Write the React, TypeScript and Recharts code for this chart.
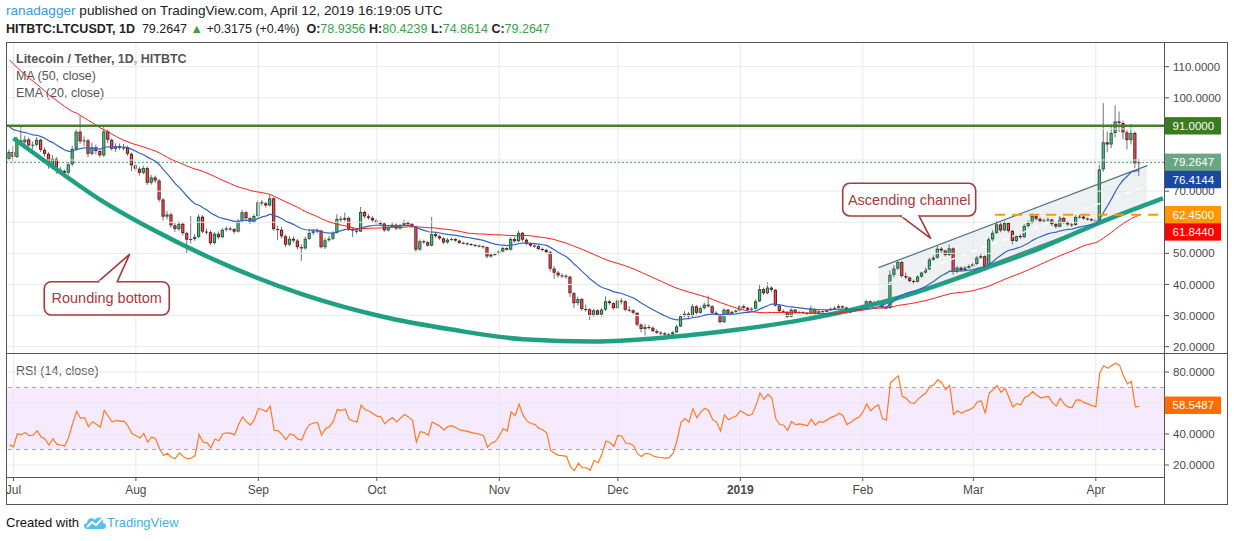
import React from 'react';
import {
  ComposedChart,
  Bar,
  Line,
  Area,
  XAxis,
  YAxis,
  ReferenceLine,
  ReferenceArea,
  ReferenceDot,
} from 'recharts';

// day index: Jul 1 2018 = 0, so the first candle (Jun 30) is day -1
const firstDay = -1;
const firstOpen = 80.4;

// daily closes Jun 30 2018 .. Apr 12 2019
const closes = [
  82.6,
  // Jul
  81.0, 86.3, 85.7, 86.6, 84.7, 84.9, 86.5, 83.3, 82.0, 78.3, 80.4, 76.9, 76.5, 75.9, 78.6, 83.6,
  89.1, 86.0, 86.3, 82.0, 84.1, 82.9, 81.5, 89.2, 86.5, 83.6, 84.4, 83.9, 84.0, 82.0, 78.3,
  // Aug
  77.2, 75.9, 77.4, 72.7, 74.4, 73.4, 67.3, 61.8, 62.5, 59.0, 57.8, 59.5, 56.5, 54.4, 54.6, 55.3,
  61.8, 57.0, 56.8, 53.3, 56.3, 55.2, 57.6, 58.0, 57.8, 57.0, 60.4, 63.2, 61.3, 60.0, 62.0,
  // Sep
  66.4, 66.1, 65.4, 67.7, 57.8, 57.6, 55.5, 52.8, 54.7, 54.1, 52.0, 51.6, 54.7, 56.6, 57.1,
  57.3, 52.0, 54.2, 54.7, 56.6, 61.1, 60.8, 61.4, 57.9, 57.3, 57.0, 63.3, 61.9, 61.4, 60.6,
  // Oct
  59.8, 59.6, 57.4, 58.5, 59.2, 58.0, 59.0, 60.0, 59.4, 58.6, 51.2, 53.9, 53.6, 52.5, 56.2, 55.5,
  54.8, 53.5, 54.4, 54.6, 54.1, 53.4, 53.2, 53.0, 52.7, 52.5, 52.3, 52.0, 49.0, 49.6, 49.8,
  // Nov
  50.6, 51.7, 51.2, 54.6, 53.9, 56.6, 54.4, 53.1, 52.5, 52.3, 51.4, 51.1, 50.4, 45.1, 43.8,
  42.9, 42.8, 42.5, 37.2, 34.0, 35.3, 32.1, 32.0, 30.0, 31.7, 30.3, 31.9, 34.6, 34.0, 32.4,
  // Dec
  34.8, 34.6, 31.9, 31.7, 30.9, 27.1, 25.7, 26.3, 26.1, 25.0, 24.5, 24.3, 23.9, 24.0, 24.6, 26.5,
  29.8, 30.6, 29.8, 33.0, 30.9, 32.4, 33.5, 33.0, 30.9, 30.3, 27.9, 31.9, 30.6, 31.2, 31.6,
  // Jan
  33.0, 32.5, 31.9, 32.2, 34.6, 38.5, 37.2, 39.0, 38.3, 33.2, 31.4, 31.2, 29.6, 31.9, 30.9, 31.1,
  30.9, 30.6, 32.1, 30.6, 31.4, 31.2, 31.7, 32.2, 32.5, 33.0, 32.6, 31.0, 31.4, 31.9, 32.2,
  // Feb
  33.0, 34.6, 33.6, 34.3, 34.7, 32.6, 32.4, 43.1, 45.1, 47.2, 42.7, 42.2, 41.1, 40.9,
  42.5, 43.8, 44.9, 48.0, 48.6, 51.5, 50.9, 49.5, 51.6, 44.0, 45.4, 44.6, 45.4, 45.9,
  // Mar
  46.6, 48.6, 49.1, 45.9, 54.5, 56.6, 59.3, 57.4, 59.8, 57.2, 54.0, 55.6, 55.2, 58.8, 59.8, 62.0,
  61.1, 60.3, 60.6, 60.9, 59.4, 58.6, 61.4, 60.0, 59.3, 59.1, 61.7, 61.8, 61.2, 61.0, 60.6,
  // Apr
  60.4, 77.0, 85.7, 85.0, 88.7, 92.4, 91.9, 88.9, 86.4, 88.7, 78.94, 79.2647,
];

const highs = [
  83.4,
  84.5, 87.5, 91.1, 87.8, 87.3, 86.0, 87.4, 86.9, 84.0, 82.5, 81.6, 80.9, 77.8, 77.0, 79.3, 84.6,
  89.9, 94.3, 87.6, 86.9, 85.6, 85.0, 83.4, 90.6, 89.8, 86.9, 85.4, 85.3, 85.2, 84.6, 82.4,
  79.0, 77.8, 78.2, 77.9, 75.2, 75.0, 73.9, 67.8, 63.6, 63.0, 59.9, 60.3, 60.0, 57.0, 62.0, 56.2,
  62.6, 62.3, 58.0, 57.4, 56.9, 57.0, 58.1, 58.7, 58.6, 58.2, 61.0, 64.0, 63.6, 61.8, 62.6,
  67.0, 67.2, 66.6, 68.8, 68.0, 58.9, 58.6, 56.0, 55.6, 55.4, 54.6, 52.9, 55.4, 57.8, 57.8,
  58.0, 57.6, 55.0, 55.6, 57.1, 62.6, 62.0, 63.1, 61.9, 58.4, 58.0, 64.9, 63.7, 62.6, 62.0,
  61.2, 60.5, 60.0, 59.0, 59.9, 59.6, 59.5, 60.8, 60.4, 59.8, 58.9, 54.5, 54.4, 54.0, 61.7, 56.9,
  56.0, 55.2, 54.9, 55.0, 54.9, 54.4, 53.8, 53.6, 53.3, 53.0, 52.8, 52.6, 52.2, 50.1, 50.3,
  51.1, 52.2, 52.0, 55.2, 55.4, 57.4, 56.9, 54.8, 53.6, 53.0, 52.7, 51.9, 51.5, 50.9, 45.9,
  44.4, 43.6, 43.3, 42.8, 37.6, 36.1, 35.7, 33.6, 32.4, 32.2, 32.0, 32.5, 36.2, 35.1, 34.3,
  35.3, 35.6, 34.9, 33.0, 32.0, 31.1, 27.5, 27.3, 27.0, 26.5, 25.6, 25.0, 24.7, 24.4, 25.0, 27.0,
  30.4, 31.5, 31.2, 33.7, 33.4, 33.0, 34.2, 36.4, 33.3, 31.4, 30.6, 32.4, 32.1, 31.6, 32.0,
  33.4, 33.6, 32.8, 32.7, 35.2, 39.9, 39.0, 40.7, 39.4, 38.6, 33.6, 32.0, 31.5, 32.3, 32.1, 31.5,
  31.4, 31.2, 33.3, 32.3, 31.8, 31.7, 32.1, 32.6, 32.9, 33.6, 33.2, 32.8, 31.8, 32.3, 32.6,
  33.5, 35.1, 34.9, 34.7, 35.0, 34.9, 33.1, 44.6, 46.2, 47.9, 47.6, 43.8, 42.6, 41.6,
  43.0, 44.4, 45.4, 48.6, 49.4, 52.4, 52.0, 51.2, 52.9, 51.9, 46.0, 45.8, 45.9, 46.4,
  47.1, 49.2, 49.9, 49.4, 55.2, 57.4, 60.4, 60.1, 60.5, 60.1, 57.6, 56.3, 56.2, 59.4, 60.6, 62.8,
  62.4, 61.6, 61.3, 61.6, 61.2, 59.9, 62.0, 61.8, 60.4, 59.8, 62.3, 62.4, 62.1, 61.5, 61.3,
  61.2, 78.5, 98.3, 89.2, 91.5, 97.6, 95.6, 92.6, 89.6, 91.6, 89.2, 80.4239,
];

const lows = [
  79.8,
  79.4, 80.6, 84.9, 85.0, 83.6, 83.5, 84.4, 82.6, 81.2, 77.2, 77.8, 75.6, 75.4, 74.9, 75.3, 78.0,
  82.9, 85.1, 84.4, 80.9, 81.5, 81.8, 80.9, 81.0, 85.4, 83.0, 82.6, 83.2, 83.1, 81.4, 76.5,
  76.4, 75.0, 75.4, 72.0, 72.1, 72.6, 66.5, 60.5, 60.9, 58.2, 56.9, 57.1, 55.8, 50.0, 53.2, 54.0,
  55.0, 56.4, 56.0, 52.6, 52.9, 54.6, 54.9, 57.0, 57.2, 56.3, 56.7, 60.0, 60.6, 59.4, 59.7,
  61.6, 65.3, 64.7, 65.0, 57.2, 54.2, 54.8, 52.0, 52.3, 53.4, 51.3, 47.6, 51.2, 54.3, 55.9,
  56.4, 51.6, 51.4, 53.8, 54.3, 56.3, 60.0, 60.2, 57.2, 55.2, 56.3, 56.8, 61.2, 60.8, 60.1,
  59.3, 58.9, 56.9, 57.0, 58.1, 57.5, 57.6, 58.6, 58.9, 58.1, 50.5, 50.9, 53.0, 52.1, 52.2, 55.0,
  54.3, 53.0, 53.1, 54.0, 53.7, 53.0, 52.9, 52.6, 52.3, 52.1, 51.9, 51.5, 48.4, 48.6, 49.2,
  49.4, 50.3, 50.8, 50.9, 53.4, 53.6, 53.8, 52.6, 52.0, 51.8, 51.0, 50.6, 49.8, 44.2, 41.9,
  42.2, 42.1, 41.8, 36.0, 32.4, 33.2, 31.5, 31.2, 28.6, 29.6, 29.8, 29.6, 31.5, 33.4, 31.9,
  32.1, 33.6, 31.4, 31.2, 30.4, 26.5, 24.6, 23.6, 25.5, 24.6, 24.0, 23.7, 23.3, 23.2, 23.7, 24.4,
  26.3, 29.5, 29.0, 29.5, 30.3, 30.6, 32.0, 32.6, 30.4, 29.8, 27.4, 27.6, 30.1, 30.3, 30.8,
  31.3, 32.1, 31.4, 31.5, 32.0, 34.3, 36.6, 36.9, 37.6, 32.9, 31.0, 30.8, 29.1, 29.4, 30.5, 30.6,
  30.5, 30.2, 30.4, 30.3, 30.4, 30.9, 31.0, 31.5, 32.0, 32.3, 32.3, 30.6, 30.7, 31.2, 31.6,
  31.9, 32.8, 33.3, 33.4, 34.0, 32.3, 32.1, 32.2, 42.3, 44.6, 42.0, 41.7, 40.7, 40.3,
  40.6, 42.2, 43.5, 44.6, 47.6, 48.3, 50.0, 49.0, 49.2, 43.1, 43.6, 44.1, 44.3, 45.0,
  45.6, 46.3, 48.2, 45.4, 45.6, 53.9, 56.2, 56.8, 57.1, 56.7, 52.9, 53.6, 54.6, 54.9, 58.3, 59.5,
  60.5, 59.7, 59.8, 60.1, 58.8, 58.0, 58.3, 59.5, 58.8, 58.5, 58.9, 61.2, 60.8, 60.6, 60.2,
  59.9, 60.1, 76.2, 82.5, 83.8, 87.2, 89.0, 86.6, 83.4, 85.0, 77.4, 74.8614,
];

// closes May 12 .. Jun 29 2018, only used to warm up MA / EMA / RSI
const priorCloses = [
  145, 148, 145, 141, 139, 135, 137, 136, 139, 136, 129, 122, 124, 122, 122, 121, 116, 124, 123, 124,
  121, 123, 124, 119, 121, 120, 120, 118, 115, 104, 104, 97, 94, 98, 94, 96, 95, 98, 97, 97,
  94, 84, 85, 82, 83, 79, 80, 76, 80.4,
];

const monthTicks = [0, 31, 62, 92, 123, 153, 184, 215, 243, 274];
const monthLabels = ['Jul', 'Aug', 'Sep', 'Oct', 'Nov', 'Dec', '2019', 'Feb', 'Mar', 'Apr'];

const priceGrid = [20, 30, 40, 50, 60, 70, 80, 90, 100, 110];
const priceTicks = [20, 30, 40, 50, 70, 100, 110];
const rsiGrid = [20, 40, 60, 80];
const rsiTicks = [20, 40, 80];

// rounding bottom drawing
const curveDays = [0, 10, 22, 35, 56, 73, 93, 111, 129, 147, 166, 184, 200, 212, 225, 246, 260, 275, 291];
const curvePrices = [87.0, 77.8, 67.2, 57.8, 45.1, 36.9, 29.8, 25.5, 22.4, 21.7, 23.1, 25.6, 28.7, 31.8, 36.1, 45.2, 51.7, 59.9, 67.7];

// ascending channel drawing
const channelDays = [219, 287];
const channelUpper = [45.4, 78.2];
const channelLower = [32.9, 65.5];

const resistance = 91;
const support = 62.45;
const supportFrom = 248.5;
const lastPrice = 79.2647;
const lastEma = 76.4144;
const lastMa = 61.844;
const lastRsi = 58.5487;

const roundingTip = { day: 29.4, price: 49.7 };
const channelTip = { day: 232.2, price: 54.85 };

const xDomain = [-1.875, 291.26];
const priceDomain = [17.975, 117.62];
const rsiDomain = [12.26, 90.97];

const FONT = '"Liberation Sans", Arial, sans-serif';
const GRID = '#e9e9ea';

// indicators
const series = [...priorCloses, ...closes];
const lead = priorCloses.length;

function sma(n: number) {
  return closes.map((_, i) => {
    let s = 0;
    for (let j = lead + i - n + 1; j <= lead + i; j++) s += series[j];
    return s / n;
  });
}

function ema(n: number) {
  const k = 2 / (n + 1);
  let e = series[0];
  const out: number[] = [];
  series.forEach((v, i) => {
    e = i === 0 ? v : v * k + e * (1 - k);
    out.push(e);
  });
  return out.slice(lead);
}

function rsi(n: number) {
  let ag = 0;
  let al = 0;
  const out: (number | null)[] = [null];
  for (let i = 1; i < series.length; i++) {
    const ch = series[i] - series[i - 1];
    const g = Math.max(ch, 0);
    const l = Math.max(-ch, 0);
    if (i <= n) {
      ag += g / n;
      al += l / n;
    } else {
      ag = (ag * (n - 1) + g) / n;
      al = (al * (n - 1) + l) / n;
    }
    out.push(i >= n ? 100 - 100 / (1 + ag / (al || 1e-9)) : null);
  }
  return out.slice(lead);
}

const ma50 = sma(50);
const ema20 = ema(20);
const rsi14 = rsi(14);

const rows: any[] = [];
for (let d = firstDay; d <= 291; d++) {
  const i = d - firstDay;
  const row: any = { day: d };
  if (i < closes.length) {
    row.o = i === 0 ? firstOpen : closes[i - 1];
    row.h = highs[i];
    row.l = lows[i];
    row.c = closes[i];
    row.ma = ma50[i];
    row.ema = ema20[i];
    row.rsi = rsi14[i];
  }
  rows.push(row);
}
curveDays.forEach((d, j) => {
  rows[d - firstDay].curve = curvePrices[j];
});
channelDays.forEach((d, j) => {
  const r = rows[d - firstDay];
  r.chU = channelUpper[j];
  r.chL = channelLower[j];
  r.chM = (channelUpper[j] + channelLower[j]) / 2;
  r.band = [channelLower[j], channelUpper[j]];
});

const candleRange = (r: any) => (r.c == null ? undefined : [r.l, r.h]);

const Candle = (props: any) => {
  const { x, y, width, height, payload } = props;
  if (!payload || payload.c == null || !(height > 0)) return <g />;
  const { o, h, l, c } = payload;
  const k = height / (h - l);
  const py = (v: number) => y + (h - v) * k;
  const cx = x + width / 2;
  const up = c >= o;
  const top = py(Math.max(o, c));
  const bh = Math.max(1, py(Math.min(o, c)) - top);
  return (
    <g>
      <line x1={cx} x2={cx} y1={y} y2={y + height} stroke="#737375" strokeWidth={1} />
      <rect x={cx - 1.6} y={top} width={3.2} height={bh} fill={up ? '#225437' : '#5b1a13'} />
      {bh > 2 && (
        <rect x={cx - 0.7} y={top + 0.9} width={1.4} height={bh - 1.8} fill={up ? '#53b987' : '#eb4d5c'} />
      )}
    </g>
  );
};

const axisBox = (text: string, fill: string, dy = 0) => (props: any) => {
  const vb = props.viewBox || {};
  const x = vb.x + vb.width;
  const y = vb.y + dy;
  return (
    <g>
      <rect x={x} y={y - 8.7} width={57} height={17.4} fill={fill} />
      <text x={x + 8.5} y={y} dy="0.36em" fill="#fff" fontSize={11.5} fontFamily={FONT}>
        {text}
      </text>
    </g>
  );
};

const callout = (
  text: string,
  boxDx: number,
  boxDy: number,
  boxW: number,
  boxH: number,
  base1: number,
  base2: number,
  pointsUp: boolean
) => (props: any) => {
  const { cx, cy } = props;
  const bx = cx + boxDx;
  const by = cy + boxDy;
  const edge = pointsUp ? by : by + boxH;
  const col = '#a9393b';
  return (
    <g>
      <rect x={bx} y={by} width={boxW} height={boxH} rx={7} fill="#fff" stroke={col} strokeWidth={1.6} />
      <path
        d={`M${cx + base1},${edge} L${cx},${cy} L${cx + base2},${edge}`}
        fill="#fff"
        stroke={col}
        strokeWidth={1.6}
        strokeLinejoin="round"
      />
      <line x1={cx + base1 + 1.3} x2={cx + base2 - 1.3} y1={edge} y2={edge} stroke="#fff" strokeWidth={2.6} />
      <text x={bx + boxW / 2} y={by + boxH / 2} dy="0.35em" textAnchor="middle" fill={col} fontSize={14.5} fontFamily={FONT}>
        {text}
      </text>
    </g>
  );
};

const MonthTick = (props: any) => {
  const { x, y, payload } = props;
  const label = monthLabels[monthTicks.indexOf(payload.value)] || '';
  return (
    <text
      x={x}
      y={y}
      dy="0.71em"
      textAnchor="middle"
      fill="#4a4a4a"
      fontSize={12}
      fontFamily={FONT}
      fontWeight={label === '2019' ? 'bold' : 'normal'}
    >
      {label}
    </text>
  );
};

const abs = (left: number, top: number, extra: any = {}) => ({ position: 'absolute' as const, left, top, ...extra });

export default function App() {
  const green = '#37a24a';
  return (
    <div style={{ position: 'absolute', left: 0, top: 0, width: 1234, height: 541, background: '#fff', fontFamily: FONT, overflow: 'hidden' }}>
      {/* header */}
      <div style={abs(6, 3, { fontSize: 13.6, color: '#222', whiteSpace: 'nowrap' })}>
        <span style={{ color: '#3a9ad9' }}>ranadagger</span> published on TradingView.com, April 12, 2019 16:19:05 UTC
      </div>
      <div style={abs(6, 22, { fontSize: 12.5, color: '#222', whiteSpace: 'nowrap' })}>
        <b>HITBTC:LTCUSDT, 1D</b>&nbsp; 79.2647 <span style={{ color: green }}>▲</span> +0.3175 (+0.4%)&nbsp; <b>O:</b>
        <span style={{ color: green }}>78.9356</span> <b>H:</b>
        <span style={{ color: green }}>80.4239</span> <b>L:</b>
        <span style={{ color: green }}>74.8614</span> <b>C:</b>
        <span style={{ color: green }}>79.2647</span>
      </div>

      {/* legend */}
      <div style={abs(16, 52, { fontSize: 12.5, color: '#555', fontWeight: 'bold', whiteSpace: 'nowrap' })}>Litecoin / Tether, 1D, HITBTC</div>
      <div style={abs(16, 69, { fontSize: 12.5, color: '#555', whiteSpace: 'nowrap' })}>MA (50, close)</div>
      <div style={abs(16, 86, { fontSize: 12.5, color: '#555', whiteSpace: 'nowrap' })}>EMA (20, close)</div>
      <div style={abs(16, 364, { fontSize: 12.5, color: '#555', whiteSpace: 'nowrap' })}>RSI (14, close)</div>

      {/* price pane */}
      <div style={abs(0, 43)}>
        <ComposedChart width={1228} height={310} data={rows} margin={{ top: 0, right: 0, bottom: 0, left: 6 }}>
          <XAxis dataKey="day" type="number" domain={xDomain} allowDataOverflow hide />
          <YAxis
            orientation="right"
            domain={priceDomain}
            allowDataOverflow
            ticks={priceTicks}
            interval={0}
            width={64}
            axisLine={false}
            tickLine={{ stroke: '#555' }}
            tickSize={5}
            tickMargin={4}
            tick={{ fill: '#4a4a4a', fontSize: 11.5, fontFamily: FONT }}
            tickFormatter={(v: number) => v.toFixed(4)}
          />
          {monthTicks.map((d) => (
            <ReferenceLine key={'vx' + d} x={d} stroke={GRID} />
          ))}
          {priceGrid.map((v) => (
            <ReferenceLine key={'hy' + v} y={v} stroke={GRID} />
          ))}
          <Area dataKey="band" stroke="none" fill="#b0bec5" fillOpacity={0.22} connectNulls isAnimationActive={false} dot={false} activeDot={false} />
          <Line dataKey="chM" stroke="#ffffff" strokeWidth={1.5} strokeDasharray="6 5" connectNulls dot={false} activeDot={false} isAnimationActive={false} />
          <Line dataKey="chU" stroke="#4f7383" strokeWidth={1.2} connectNulls dot={false} activeDot={false} isAnimationActive={false} />
          <Line dataKey="chL" stroke="#4f7383" strokeWidth={1.2} connectNulls dot={false} activeDot={false} isAnimationActive={false} />
          <Line dataKey="curve" type="monotone" stroke="#20a082" strokeWidth={4.5} connectNulls dot={false} activeDot={false} isAnimationActive={false} />
          <Line dataKey="ma" stroke="#ff1a1a" strokeWidth={1} dot={false} activeDot={false} isAnimationActive={false} />
          <Line dataKey="ema" stroke="#3464c8" strokeWidth={1.2} dot={false} activeDot={false} isAnimationActive={false} />
          <Bar dataKey={candleRange} shape={<Candle />} barSize={3} isAnimationActive={false} />
          <ReferenceLine y={resistance} stroke="#467f27" strokeWidth={2.6} label={axisBox('91.0000', '#3b7a1e')} />
          <ReferenceLine y={lastPrice} stroke="#3c9d66" strokeDasharray="2 2" label={axisBox('79.2647', '#6aa683')} />
          <ReferenceLine y={lastEma} stroke="none" label={axisBox('76.4144', '#1848a0', 8.3)} />
          <ReferenceLine
            segment={[
              { x: supportFrom, y: support },
              { x: xDomain[1], y: support },
            ]}
            stroke="#ff9800"
            strokeWidth={2}
            strokeDasharray="10 7"
          />
          <ReferenceLine y={support} stroke="none" label={axisBox('62.4500', '#ff9800')} />
          <ReferenceLine y={lastMa} stroke="none" label={axisBox('61.8440', '#ff0000', 15.4)} />
          <ReferenceDot
            x={roundingTip.day}
            y={roundingTip.price}
            r={1}
            shape={callout('Rounding bottom', -85.3, 27.4, 125, 33.3, -31.3, -12.3, true)}
          />
          <ReferenceDot
            x={channelTip.day}
            y={channelTip.price}
            r={1}
            shape={callout('Ascending channel', -88, -55, 133, 32.7, -30, -11.7, false)}
          />
        </ComposedChart>
      </div>

      {/* RSI pane + date axis */}
      <div style={abs(0, 353)}>
        <ComposedChart width={1228} height={151} data={rows} margin={{ top: 2, right: 0, bottom: 0, left: 6 }}>
          <XAxis
            dataKey="day"
            type="number"
            domain={xDomain}
            allowDataOverflow
            ticks={monthTicks}
            interval={0}
            height={27}
            axisLine={false}
            tickLine={{ stroke: '#555' }}
            tickSize={4}
            tickMargin={4}
            tick={<MonthTick />}
          />
          <YAxis
            orientation="right"
            domain={rsiDomain}
            allowDataOverflow
            ticks={rsiTicks}
            interval={0}
            width={64}
            axisLine={false}
            tickLine={{ stroke: '#555' }}
            tickSize={5}
            tickMargin={4}
            tick={{ fill: '#4a4a4a', fontSize: 11.5, fontFamily: FONT }}
            tickFormatter={(v: number) => v.toFixed(4)}
          />
          <ReferenceArea y1={30} y2={70} fill="#9915ff" fillOpacity={0.09} stroke="none" />
          {monthTicks.map((d) => (
            <ReferenceLine key={'rx' + d} x={d} stroke={GRID} />
          ))}
          {rsiGrid.map((v) => (
            <ReferenceLine key={'ry' + v} y={v} stroke={GRID} />
          ))}
          <ReferenceLine y={70} stroke="#b0a6ba" strokeDasharray="4 4" />
          <ReferenceLine y={30} stroke="#b0a6ba" strokeDasharray="4 4" />
          <Line dataKey="rsi" stroke="#ff7a1f" strokeWidth={1.2} dot={false} activeDot={false} isAnimationActive={false} />
          <ReferenceLine y={lastRsi} stroke="none" label={axisBox('58.5487', '#ff6d00')} />
        </ComposedChart>
      </div>

      {/* frame */}
      <div style={abs(6, 42, { width: 1222, height: 1, background: '#555' })} />
      <div style={abs(6, 353, { width: 1222, height: 1, background: '#555' })} />
      <div style={abs(6, 477, { width: 1158, height: 1, background: '#555' })} />
      <div style={abs(6, 504, { width: 1222, height: 1, background: '#555' })} />
      <div style={abs(6, 42, { width: 1, height: 463, background: '#555' })} />
      <div style={abs(1164, 42, { width: 1, height: 463, background: '#555' })} />
      <div style={abs(1227, 42, { width: 1, height: 463, background: '#555' })} />

      {/* footer */}
      <div style={abs(6, 515, { fontSize: 13, color: '#111', whiteSpace: 'nowrap' })}>Created with</div>
      <svg style={abs(83, 514)} width={24} height={16} viewBox="0 0 24 16">
        <path d="M4 15 C0 15 0 9 4 9 C4 4 10 3 12 6 C14 2 21 3 20 9 C24 9 24 15 20 15 Z" fill="#5bc0eb" />
        <path d="M4 13 L9 8 L13 11 L19 5" fill="none" stroke="#fff" strokeWidth={1.8} />
      </svg>
      <div style={abs(107, 515, { fontSize: 13, color: '#3fb0e0', whiteSpace: 'nowrap' })}>TradingView</div>
    </div>
  );
}
